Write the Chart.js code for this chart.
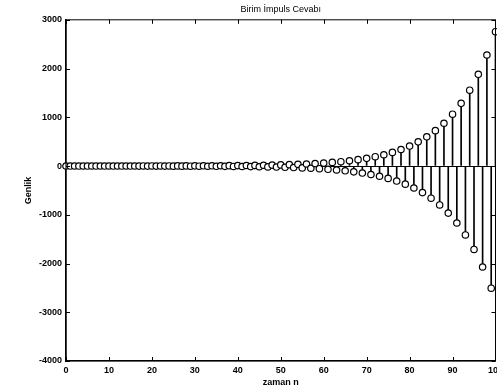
<!DOCTYPE html>
<html lang="tr">
<head>
<meta charset="UTF-8">
<title>Birim İmpuls Cevabı</title>
<script src="https://cdn.jsdelivr.net/npm/chart.js"></script>
<style>
  html, body { margin: 0; padding: 0; background: #fff; overflow: hidden; }
  canvas { display: block; }
</style>
</head>
<body>
<canvas id="stemChart" width="507" height="392"></canvas>
<script>
// sample index n
const n = [
  0, 1, 2, 3, 4, 5, 6, 7, 8, 9, 10, 11, 12, 13, 14, 15, 16, 17, 18, 19,
  20, 21, 22, 23, 24, 25, 26, 27, 28, 29, 30, 31, 32, 33, 34, 35, 36, 37, 38, 39,
  40, 41, 42, 43, 44, 45, 46, 47, 48, 49, 50, 51, 52, 53, 54, 55, 56, 57, 58, 59,
  60, 61, 62, 63, 64, 65, 66, 67, 68, 69, 70, 71, 72, 73, 74, 75, 76, 77, 78, 79,
  80, 81, 82, 83, 84, 85, 86, 87, 88, 89, 90, 91, 92, 93, 94, 95, 96, 97, 98, 99,
  100, 101
];
// impulse response h[n]
const h = [
  0.2, -0.22, 0.24, -0.27, 0.29, -0.32, 0.35, -0.39, 0.43, -0.47,
  0.52, -0.57, 0.63, -0.69, 0.76, -0.84, 0.92, -1.0, 1.1, -1.2,
  1.3, -1.5, 1.6, -1.8, 2.0, -2.2, 2.4, -2.6, 2.9, -3.2,
  3.5, -3.8, 4.2, -4.6, 5.1, -5.6, 6.2, -6.8, 7.5, -8.2,
  9.1, -10, 11, -12, 13, -15, 16, -18, 19, -21,
  23, -26, 28, -31, 34, -38, 42, -46, 50, -55,
  61, -67, 74, -81, 89, -98, 108, -119, 131, -144,
  158, -174, 191, -210, 231, -254, 280, -308, 339, -372,
  410, -451, 496, -545, 600, -660, 726, -798, 878, -966,
  1063, -1169, 1286, -1414, 1556, -1711, 1882, -2071, 2278, -2506,
  2756, -3032
];
const xTicks = [0, 10, 20, 30, 40, 50, 60, 70, 80, 90, 100];
const yTicks = [-4000, -3000, -2000, -1000, 0, 1000, 2000, 3000];
const titleText = 'Birim İmpuls Cevabı';
const xLabel = 'zaman n';
const yLabel = 'Genlik';

const points = n.map((v, i) => ({ x: v, y: h[i] }));

const font = { family: 'Arial, "Liberation Sans", sans-serif', size: 9, weight: 'bold' };

// matlab style box + inward tick marks
const boxPlugin = {
  id: 'box',
  afterDraw(chart) {
    const { ctx, chartArea: a, scales } = chart;
    ctx.save();
    ctx.strokeStyle = '#000';
    ctx.lineWidth = 1;
    ctx.strokeRect(a.left, a.top, a.right - a.left, a.bottom - a.top);
    ctx.beginPath();
    scales.x.ticks.forEach(t => {
      const px = Math.round(scales.x.getPixelForValue(t.value)) + 0.5;
      ctx.moveTo(px, a.bottom); ctx.lineTo(px, a.bottom - 4);
      ctx.moveTo(px, a.top); ctx.lineTo(px, a.top + 4);
    });
    scales.y.ticks.forEach(t => {
      const py = Math.round(scales.y.getPixelForValue(t.value)) + 0.5;
      ctx.moveTo(a.left, py); ctx.lineTo(a.left + 4, py);
      ctx.moveTo(a.right, py); ctx.lineTo(a.right - 4, py);
    });
    ctx.stroke();
    ctx.restore();
  }
};

new Chart(document.getElementById('stemChart'), {
  type: 'bar',
  data: {
    datasets: [
      {
        type: 'line',
        data: points,
        showLine: false,
        pointRadius: 3.2,
        pointHoverRadius: 3.2,
        pointBorderWidth: 1.2,
        pointBorderColor: '#000',
        pointBackgroundColor: '#fff',
        clip: false,
        order: 0
      },
      {
        type: 'bar',
        data: points,
        backgroundColor: '#000',
        barThickness: 1,
        order: 1
      }
    ]
  },
  options: {
    responsive: false,
    animation: false,
    layout: { padding: 0 },
    plugins: {
      legend: { display: false },
      tooltip: { enabled: false },
      title: {
        display: true,
        fullSize: false,
        text: titleText,
        color: '#000',
        font: { ...font, weight: 'normal' },
        padding: { top: 4, bottom: 5 }
      }
    },
    scales: {
      x: {
        type: 'linear',
        min: 0,
        max: 100,
        offset: false,
        afterBuildTicks: s => { s.ticks = xTicks.map(v => ({ value: v })); },
        afterFit: s => { s.height = 31; },
        grid: { display: false, drawTicks: false },
        border: { display: true, color: '#000', width: 1.2 },
        ticks: { color: '#000', font, padding: 4, maxRotation: 0, autoSkip: false, callback: v => String(v) },
        title: { display: true, text: xLabel, color: '#000', font, padding: { top: 0, bottom: 4 } }
      },
      y: {
        min: -4000,
        max: 3000,
        afterBuildTicks: s => { s.ticks = yTicks.map(v => ({ value: v })); },
        afterFit: s => { s.width = 66; },
        grid: {
          drawTicks: false,
          color: c => (c.tick && c.tick.value === 0 ? '#000' : 'rgba(0,0,0,0)'),
          lineWidth: 1
        },
        border: { display: true, color: '#000', width: 1.5 },
        ticks: { color: '#000', font, padding: 4, callback: v => String(v) },
        title: { display: true, text: yLabel, color: '#000', font, padding: { top: 23, bottom: 0 } }
      }
    }
  },
  plugins: [boxPlugin]
});
</script>
</body>
</html>
